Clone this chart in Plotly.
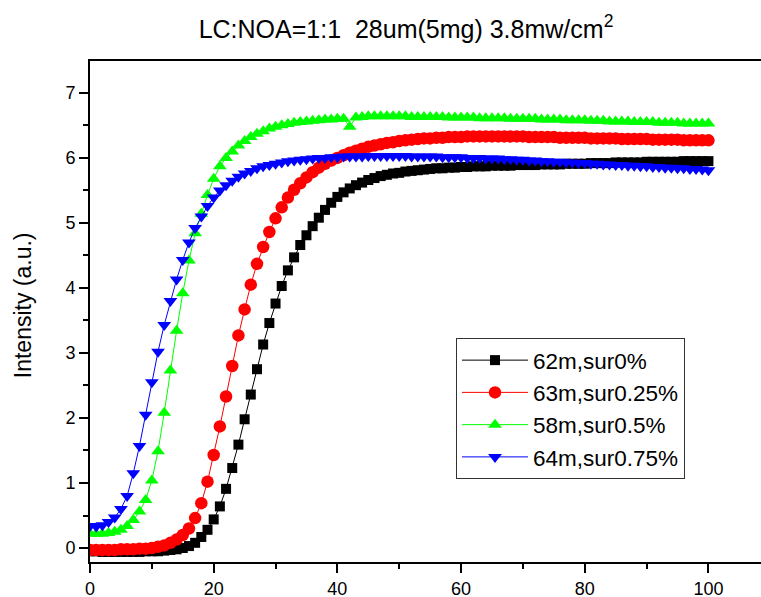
import plotly.graph_objects as go

time = list(range(0, 101))

black_0 = [
    -0.05, -0.05, -0.06, -0.06, -0.06, -0.06, -0.06, -0.06, -0.06, -0.05,
    -0.05, -0.05, -0.04, -0.03, -0.02, 0.00, 0.03, 0.08, 0.17, 0.28,
    0.44, 0.64, 0.91, 1.23, 1.59, 1.98, 2.36, 2.75, 3.13, 3.46,
    3.76, 4.03, 4.27, 4.47, 4.66, 4.81, 4.95, 5.08, 5.20, 5.31,
    5.40, 5.47, 5.53, 5.58, 5.62, 5.66, 5.69, 5.72, 5.74, 5.76,
    5.77, 5.79, 5.80, 5.81, 5.82, 5.83, 5.84, 5.84, 5.85, 5.85,
    5.86, 5.86, 5.87, 5.87, 5.87, 5.88, 5.88, 5.88, 5.88, 5.89,
    5.89, 5.89, 5.89, 5.90, 5.90, 5.90, 5.90, 5.91, 5.91, 5.91,
    5.91, 5.92, 5.92, 5.92, 5.92, 5.93, 5.93, 5.93, 5.93, 5.93,
    5.94, 5.94, 5.94, 5.94, 5.94, 5.94, 5.95, 5.95, 5.95, 5.95,
    5.95,
]

red_025 = [
    -0.03, -0.03, -0.03, -0.03, -0.03, -0.02, -0.02, -0.02, -0.01, -0.01,
    0.00, 0.02, 0.04, 0.08, 0.13, 0.20, 0.30, 0.46, 0.69, 1.02,
    1.43, 1.87, 2.33, 2.80, 3.27, 3.67, 4.05, 4.37, 4.63, 4.86,
    5.07, 5.24, 5.39, 5.51, 5.61, 5.70, 5.78, 5.85, 5.91, 5.96,
    6.00, 6.04, 6.08, 6.11, 6.14, 6.17, 6.19, 6.21, 6.23, 6.24,
    6.26, 6.27, 6.28, 6.29, 6.30, 6.30, 6.31, 6.31, 6.32, 6.32,
    6.32, 6.33, 6.33, 6.33, 6.33, 6.33, 6.33, 6.33, 6.33, 6.33,
    6.33, 6.32, 6.32, 6.32, 6.32, 6.32, 6.31, 6.31, 6.31, 6.31,
    6.31, 6.30, 6.30, 6.30, 6.30, 6.30, 6.29, 6.29, 6.29, 6.29,
    6.29, 6.28, 6.28, 6.28, 6.28, 6.28, 6.27, 6.27, 6.27, 6.27,
    6.27,
]

green_05 = [
    0.22, 0.22, 0.22, 0.23, 0.25, 0.28, 0.34, 0.43, 0.56, 0.74,
    1.04, 1.49, 2.08, 2.73, 3.34, 3.92, 4.42, 4.84, 5.14, 5.43,
    5.68, 5.87, 6.00, 6.10, 6.19, 6.26, 6.32, 6.37, 6.41, 6.45,
    6.48, 6.50, 6.52, 6.54, 6.55, 6.56, 6.57, 6.58, 6.59, 6.59,
    6.60, 6.60, 6.48, 6.62, 6.63, 6.64, 6.64, 6.64, 6.64, 6.64,
    6.64, 6.64, 6.63, 6.63, 6.63, 6.63, 6.63, 6.63, 6.62, 6.62,
    6.62, 6.62, 6.62, 6.61, 6.61, 6.61, 6.61, 6.61, 6.60, 6.60,
    6.60, 6.60, 6.60, 6.59, 6.59, 6.59, 6.59, 6.58, 6.58, 6.58,
    6.58, 6.57, 6.57, 6.57, 6.56, 6.56, 6.56, 6.56, 6.55, 6.55,
    6.55, 6.55, 6.54, 6.54, 6.54, 6.54, 6.53, 6.53, 6.53, 6.53,
    6.53,
]

blue_075 = [
    0.34, 0.33, 0.35, 0.40, 0.47, 0.60, 0.80, 1.15, 1.57, 2.05,
    2.55, 3.02, 3.43, 3.80, 4.13, 4.43, 4.70, 4.92, 5.10, 5.26,
    5.39, 5.50, 5.58, 5.65, 5.71, 5.76, 5.80, 5.84, 5.87, 5.89,
    5.91, 5.93, 5.95, 5.96, 5.97, 5.98, 5.99, 6.00, 6.00, 6.01,
    6.01, 6.02, 6.02, 6.02, 6.02, 6.03, 6.03, 6.03, 6.03, 6.03,
    6.03, 6.03, 6.02, 6.02, 6.02, 6.02, 6.02, 6.01, 6.01, 6.01,
    6.01, 6.00, 6.00, 6.00, 5.99, 5.99, 5.99, 5.98, 5.98, 5.97,
    5.97, 5.96, 5.96, 5.95, 5.95, 5.94, 5.94, 5.93, 5.93, 5.92,
    5.92, 5.91, 5.91, 5.90, 5.90, 5.89, 5.89, 5.88, 5.88, 5.87,
    5.87, 5.86, 5.86, 5.85, 5.85, 5.84, 5.84, 5.83, 5.83, 5.82,
    5.81,
]

series_names = ["62m,sur0%", "63m,sur0.25%", "58m,sur0.5%", "64m,sur0.75%"]
series_values = [black_0, red_025, green_05, blue_075]
series_colors = ["#000000", "#ff0000", "#00ff00", "#0000ff"]
series_symbols = ["square", "circle", "triangle-up", "triangle-down"]
series_sizes = [10, 12.5, 12, 12]

title_text = "LC:NOA=1:1  28um(5mg) 3.8mw/cm<sup>2</sup>"
y_title = "Intensity (a.u.)"

FONT = "Arial, Liberation Sans, sans-serif"

fig = go.Figure()
for name, vals, col, sym, sz in zip(series_names, series_values, series_colors,
                                     series_symbols, series_sizes):
    fig.add_trace(go.Scatter(
        x=time, y=vals, name=name, mode="lines+markers",
        line=dict(color=col, width=1),
        marker=dict(symbol=sym, size=sz, color=col, line=dict(width=0)),
    ))

fig.add_annotation(
    text=y_title, xref="paper", yref="paper",
    x=(22.5 - 90) / 671, y=(562.3 - 306) / 501,
    xanchor="center", yanchor="middle", textangle=-90, showarrow=False,
    font=dict(family=FONT, size=23, color="black"),
)

fig.update_layout(
    width=761, height=597,
    margin=dict(l=90, r=0, t=61, b=35, autoexpand=False),
    paper_bgcolor="white", plot_bgcolor="white",
    font=dict(family=FONT, color="black", size=18),
    title=dict(text=title_text, x=406 / 761, xref="container", xanchor="center",
               y=1 - 29 / 597, yref="container", yanchor="middle",
               font=dict(family=FONT, size=25, color="black")),
    showlegend=True,
    legend=dict(
        x=(456 - 90) / 671, y=(562 - 338) / 501, xanchor="left", yanchor="top",
        bgcolor="white", bordercolor="#333333", borderwidth=1,
        font=dict(family=FONT, size=22.5, color="black"),
        tracegroupgap=0, itemwidth=66,
    ),
)

fig.update_xaxes(
    range=[0, 108.5], showgrid=False, zeroline=False, automargin=False,
    showline=True, linecolor="black", linewidth=2, mirror=True,
    ticks="outside", ticklen=9, tickwidth=2, tickcolor="black",
    tick0=0, dtick=20,
    minor=dict(ticks="outside", ticklen=5, tickwidth=1.5, tickcolor="black", dtick=10),
    tickfont=dict(family=FONT, size=18, color="black"),
)
fig.update_yaxes(
    range=[-0.215, 7.49], showgrid=False, zeroline=False, automargin=False,
    showline=True, linecolor="black", linewidth=2, mirror=False,
    ticks="outside", ticklen=9, tickwidth=2, tickcolor="black",
    tick0=0, dtick=1,
    minor=dict(ticks="outside", ticklen=5, tickwidth=1.5, tickcolor="black", dtick=0.5),
    tickfont=dict(family=FONT, size=18, color="black"),
)

fig.write_html("out.html", config={"displayModeBar": False},
               post_script="document.body.style.margin='0';")
